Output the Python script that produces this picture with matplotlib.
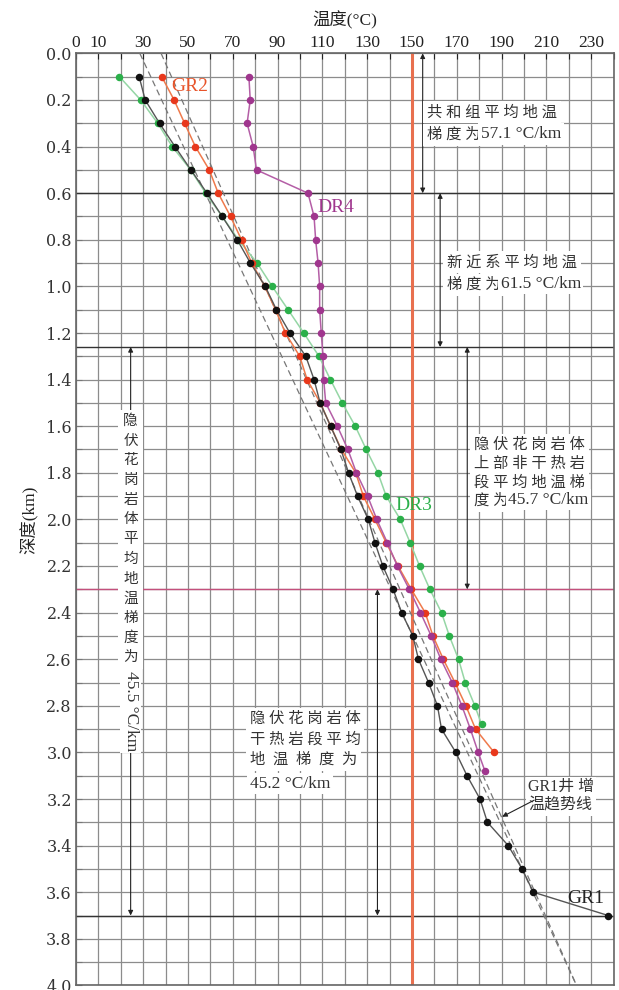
import matplotlib
matplotlib.use("Agg")
import matplotlib.pyplot as plt
import numpy as np

SERIF_CJK = ["Liberation Serif", "Noto Sans CJK SC"]
plt.rcParams["font.family"] = SERIF_CJK

# ---------------- data: temperature (°C) versus depth (km) ----------------
gr1_depth = [0.1, 0.2, 0.3, 0.4, 0.5, 0.6, 0.7, 0.8, 0.9, 1.0, 1.1, 1.2, 1.3,
             1.4, 1.5, 1.6, 1.7, 1.8, 1.9, 2.0, 2.1, 2.2, 2.3, 2.4, 2.5, 2.6,
             2.7, 2.8, 2.9, 3.0, 3.1, 3.2, 3.3, 3.4, 3.5, 3.6, 3.7]
gr1_temp = [28.2, 30.9, 37.3, 44.2, 51.3, 58.5, 65.3, 72.0, 77.9, 84.5, 89.5,
            95.5, 102.6, 106.3, 109.0, 113.7, 118.3, 121.7, 125.7, 130.5,
            133.5, 137.0, 141.6, 145.4, 150.4, 152.9, 157.4, 161.4, 163.2,
            169.6, 174.6, 180.4, 183.7, 193.0, 199.2, 204.2, 237.6]

gr2_depth = [0.1, 0.2, 0.3, 0.4, 0.5, 0.6, 0.7, 0.8, 0.9, 1.0, 1.1, 1.2, 1.3,
             1.4, 1.5, 1.6, 1.7, 1.8, 1.9, 2.0, 2.1, 2.2, 2.3, 2.4, 2.5, 2.6,
             2.7, 2.8, 2.9, 3.0]
gr2_temp = [38.3, 43.8, 48.5, 53.3, 59.5, 63.5, 69.0, 73.9, 78.5, 84.3, 89.1,
            93.5, 99.9, 103.2, 109.1, 113.7, 118.5, 124.9, 128.3, 133.5,
            138.5, 143.8, 149.7, 155.9, 159.4, 164.0, 169.2, 174.1, 178.4,
            186.7]

dr3_depth = [0.1, 0.2, 0.3, 0.4, 0.5, 0.6, 0.7, 0.8, 0.9, 1.0, 1.1, 1.2, 1.3,
             1.4, 1.5, 1.6, 1.7, 1.8, 1.9, 2.0, 2.1, 2.2, 2.3, 2.4, 2.5, 2.6,
             2.7, 2.8, 2.88]
dr3_temp = [19.4, 28.9, 36.5, 43.0, 51.2, 57.9, 65.3, 72.5, 80.9, 87.6, 94.7,
            101.7, 108.5, 113.6, 118.9, 124.7, 129.6, 134.8, 138.5, 144.8,
            149.2, 153.4, 158.0, 163.2, 166.7, 170.8, 173.8, 178.1, 181.1]

dr4_depth = [0.1, 0.2, 0.3, 0.4, 0.5, 0.6, 0.7, 0.8, 0.9, 1.0, 1.1, 1.2, 1.3,
             1.4, 1.5, 1.6, 1.7, 1.8, 1.9, 2.0, 2.1, 2.2, 2.3, 2.4, 2.5, 2.6,
             2.7, 2.8, 2.9, 3.0, 3.08]
dr4_temp = [77.2, 77.8, 76.4, 79.1, 80.6, 103.6, 106.3, 107.0, 108.1, 108.8,
            108.8, 109.5, 110.3, 110.6, 111.5, 116.7, 121.4, 125.2, 130.2,
            134.3, 139.0, 143.5, 148.8, 153.8, 158.6, 162.9, 168.0, 172.3,
            176.1, 179.6, 182.6]

# GR1 well temperature-increase trend line and the companion reference line
trend_temp = [28.5, 223.5]
trend_depth = [0.0, 4.0]
ref_line_temp = [38.0, 223.5]
ref_line_depth = [0.0, 4.0]

# formation boundaries (km) and the 150 °C reference isotherm
boundary_depths = [0.6, 1.26, 3.7]
hdr_top_depth = 2.3
ref_temp = 150

granite_chars = "隐伏花岗岩体平均地温梯度为"
granite_value = "45.5 °C/km"

x_tick_vals = list(range(0, 241, 10))
x_tick_labels = ["0", "10"] + [str(v) if v % 20 == 10 else "" for v in range(20, 241, 10)]
y_tick_vals = [round(0.1 * i, 1) for i in range(41)]
y_tick_labels = [f"{v:.1f}" if i % 2 == 0 else "" for i, v in enumerate(y_tick_vals)]

# ---------------- figure ----------------
W, H = 619, 990
fig = plt.figure(figsize=(W / 100, H / 100), dpi=100)
ax = fig.add_axes([76 / W, 1 - 985.4 / H, (613.5 - 76) / W, (985.4 - 53.4) / H])
ax.set_xlim(0, 240)
ax.set_ylim(4.0, 0.0)

ax.xaxis.tick_top()
ax.set_xticks(x_tick_vals)
ax.set_xticklabels(x_tick_labels, fontsize=12.5, family=SERIF_CJK)
ax.set_yticks(y_tick_vals)
ax.set_yticklabels(y_tick_labels, fontsize=11.5, family="DejaVu Serif", color="#333333")
ax.tick_params(axis="both", direction="in", length=4, width=0.8, color="#777777",
               pad=3)
ax.tick_params(axis="x", pad=2, colors="#222222")
ax.grid(True, color="#8c8c8c", lw=0.9)
ax.set_axisbelow(True)
for sp in ax.spines.values():
    sp.set_color("#666666")
    sp.set_linewidth(1.2)

fig.text(345 / W, 1 - 20 / H, "温度(°C)", ha="center", va="center", fontsize=12.5,
         color="#222222")
fig.text(30 / W, 1 - 520 / H, "深度(km)", ha="center", va="center", fontsize=12.5,
         rotation=90, color="#222222")

for d in boundary_depths:
    ax.axhline(d, color="#333333", lw=1.0, zorder=2)
ax.axhline(hdr_top_depth, color="#c4507c", lw=1.0, zorder=2)
ax.axvline(ref_temp, color="#e8704f", lw=2.2, zorder=2)

# dashed trend lines
ax.plot(trend_temp, trend_depth, ls=(0, (5, 3)), color="#777777", lw=0.9, zorder=3)
ax.plot(ref_line_temp, ref_line_depth, ls=(0, (5, 3)), color="#777777", lw=0.9, zorder=3)

# well profiles
ax.plot(dr3_temp, dr3_depth, color="#95d6a5", lw=1.1, zorder=4)
ax.plot(dr3_temp, dr3_depth, "o", color="#2bb04a", ms=4.4, zorder=5)
ax.plot(gr2_temp, gr2_depth, color="#ef7a4c", lw=1.1, zorder=4)
ax.plot(gr2_temp, gr2_depth, "o", color="#e8381c", ms=4.4, zorder=6)
ax.plot(dr4_temp, dr4_depth, color="#b45ea6", lw=1.1, zorder=4)
ax.plot(dr4_temp, dr4_depth, "o", color="#a0368e", ms=4.4, zorder=7)
ax.plot(gr1_temp, gr1_depth, color="#555555", lw=1.0, zorder=4)
ax.plot(gr1_temp, gr1_depth, "o", color="#111111", ms=4.4, zorder=8)

# well names
ax.text(50.8, 0.143, "GR2", color="#e8542a", fontsize=14, ha="center", va="center", zorder=9)
ax.text(116.0, 0.661, "DR4", color="#a0368e", fontsize=14, ha="center", va="center", zorder=9)
ax.text(151.0, 1.941, "DR3", color="#2bb04a", fontsize=14, ha="center", va="center", zorder=9)
ax.text(227.4, 3.625, "GR1", color="#222222", fontsize=14, ha="center", va="center", zorder=9)


def white_box(pad=0.25):
    return dict(boxstyle=f"square,pad={pad}", facecolor="white", edgecolor="none")


def span_arrow(x, d0, d1):
    ax.annotate("", xy=(x, d0), xytext=(x, d1), zorder=9,
                arrowprops=dict(arrowstyle="<|-|>", color="#222222", lw=0.8,
                                mutation_scale=7, shrinkA=0, shrinkB=0))


span_arrow(154.8, 0.0, 0.6)
span_arrow(162.6, 0.6, 1.26)
span_arrow(174.7, 1.26, 2.3)
span_arrow(134.6, 2.3, 3.7)
span_arrow(24.4, 1.26, 3.7)

CJK_SIZE, LATIN_SIZE, INK = 11, 12.5, "#333333"


def text_line(x, d, cjk, latin=None):
    """One annotation line: spaced Chinese text, optionally followed by a value."""
    if cjk:
        t = ax.text(x, d, cjk, fontsize=CJK_SIZE, color=INK, ha="left", va="top",
                    bbox=white_box(), zorder=10)
        if latin:
            ax.annotate(latin, xy=(1, 0.02), xycoords=t, fontsize=LATIN_SIZE,
                        color=INK, ha="left", va="bottom", bbox=white_box(0.15),
                        zorder=10)
    else:
        ax.text(x, d, latin, fontsize=LATIN_SIZE, color=INK, ha="left", va="top",
                bbox=white_box(0.15), zorder=10)


# 共和组
text_line(156.8, 0.222, "共 和 组 平 均 地 温")
text_line(156.8, 0.320, "梯 度 为", "57.1 °C/km")
# 新近系
text_line(165.7, 0.865, "新 近 系 平 均 地 温")
text_line(165.7, 0.963, "梯 度 为", "61.5 °C/km")
# 隐伏花岗岩体上部非干热岩段
text_line(177.7, 1.650, "隐 伏 花 岗 岩 体")
text_line(177.7, 1.730, "上 部 非 干 热 岩")
text_line(177.7, 1.810, "段 平 均 地 温 梯")
text_line(177.7, 1.890, "度 为", "45.7 °C/km")
# 隐伏花岗岩体干热岩段
text_line(77.5, 2.826, "隐 伏 花 岗 岩 体")
text_line(77.5, 2.914, "干 热 岩 段 平 均")
text_line(77.5, 3.002, "地  温  梯  度  为")
text_line(77.5, 3.100, None, "45.2 °C/km")

# vertical label along the granite interval
d_start, pitch = 1.58, 0.0845
for i, ch in enumerate(granite_chars):
    ax.text(24.4, d_start + i * pitch, ch, fontsize=10.5, color=INK,
            ha="center", va="center", zorder=10, bbox=white_box(0.35))
ax.text(24.4, d_start + len(granite_chars) * pitch - 0.03, granite_value,
        fontsize=LATIN_SIZE, color=INK, rotation=270, ha="center", va="top",
        zorder=10, bbox=white_box(0.15))

# trend line label with pointer
ax.text(201.8, 3.115, "GR1井 增\n温趋势线", fontsize=11.5, color=INK,
        ha="left", va="top", linespacing=1.2, bbox=white_box(0.15), zorder=10)
ax.annotate("", xy=(190.3, 3.276), xytext=(204.6, 3.205), zorder=10,
            arrowprops=dict(arrowstyle="-|>", color="#222222", lw=0.8,
                            mutation_scale=7, shrinkA=0, shrinkB=0))

fig.savefig("out.png", dpi=100)
